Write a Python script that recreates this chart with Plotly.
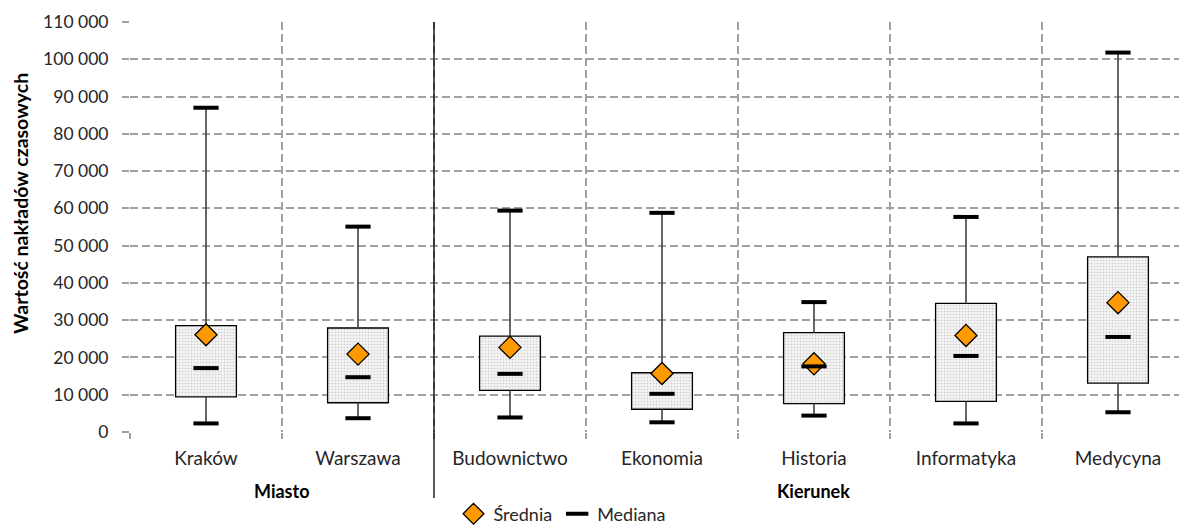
import plotly.graph_objects as go

categories = ["Kraków", "Warszawa", "Budownictwo", "Ekonomia", "Historia", "Informatyka", "Medycyna"]
mins = [2300, 3700, 3900, 2600, 4400, 2300, 5300]
q1 = [9450, 7850, 11150, 6100, 7600, 8200, 13100]
medians = [17150, 14700, 15600, 10250, 17600, 20400, 25500]
means = [26100, 20900, 22700, 15700, 18300, 25900, 34700]
q3 = [28550, 27900, 25700, 15900, 26650, 34500, 47000]
maxs = [87000, 55100, 59400, 58800, 34850, 57700, 101800]
group_labels = ["Miasto", "Kierunek"]
y_title = "Wartość nakładów czasowych"
y_ticks = list(range(0, 110001, 10000))

FONT = "Lato"
OFF = 8  # page body margin
W, H = 1187 - OFF, 527 - OFF
ML, MT, MB = 130 - OFF, 22 - OFF, 95
XR = [-0.5, 6.454]

def fx(v):
    return (v - XR[0]) / (XR[1] - XR[0])

def fy(px):
    ph = H - MT - MB
    return (H - MB - (px - OFF)) / ph

def fxp(px):
    return (px - OFF - ML) / (W - ML)

fig = go.Figure()

# boxes
fig.add_trace(go.Bar(
    x=categories, y=[b - a for a, b in zip(q1, q3)], base=q1, width=0.4,
    marker=dict(color="#f3f3f3",
                pattern=dict(shape=".", fgcolor="#b0b0b0", bgcolor="#f7f7f7", size=3, solidity=0.35),
                line=dict(color="#000000", width=1.3)),
    showlegend=False, hoverinfo="skip"))

# whiskers
wx, wy = [], []
for c, lo, a, b, hi in zip(categories, mins, q1, q3, maxs):
    wx += [c, c, None, c, c, None]
    wy += [hi, b, None, a, lo, None]
fig.add_trace(go.Scatter(x=wx, y=wy, mode="lines", line=dict(color="#404040", width=1.6),
                         showlegend=False, hoverinfo="skip", connectgaps=False))

# caps
fig.add_trace(go.Scatter(x=categories + categories, y=mins + maxs, mode="markers",
                         marker=dict(symbol="line-ew", size=18, line=dict(color="#000000", width=4)),
                         showlegend=False, hoverinfo="skip"))

# means
fig.add_trace(go.Scatter(x=categories, y=means, mode="markers", name="Średnia",
                         marker=dict(symbol="diamond", size=17, color="#FF9900",
                                     line=dict(color="#000000", width=1.3))))
# medians
fig.add_trace(go.Scatter(x=categories, y=medians, mode="markers", name="Mediana",
                         marker=dict(symbol="line-ew", size=18, line=dict(color="#000000", width=4))))

grid = dict(gridcolor="#a0a0a0", gridwidth=1.5, griddash="8px,4px")

fig.update_xaxes(type="category", range=XR, tickson="boundaries", showgrid=True, **grid,
                 ticks="outside", ticklen=6, tickcolor="#a0a0a0", tickwidth=1.5,
                 showline=False, zeroline=False, automargin=False, ticklabelstandoff=13,
                 tickfont=dict(family=FONT, size=19, color="#262626"))
fig.update_yaxes(range=[0, 110000], tickvals=y_ticks, tickformat=",d", showgrid=True, **grid,
                 ticks="outside", ticklen=7, tickcolor="#a0a0a0", tickwidth=1.5,
                 showline=False, zeroline=False, automargin=False, ticklabelstandoff=10,
                 tickfont=dict(family=FONT, size=17.5, color="#262626"))

# separator line between groups
fig.add_shape(type="line", xref="paper", yref="paper", x0=fx(1.5), x1=fx(1.5),
              y0=fy(498), y1=1, line=dict(color="#000000", width=1.3))

anns = [
    dict(text="<b>%s</b>" % group_labels[0], x=fx(0.5), y=fy(491)),
    dict(text="<b>%s</b>" % group_labels[1], x=fx(4), y=fy(491)),
]
for a in anns:
    fig.add_annotation(xref="paper", yref="paper", showarrow=False, xanchor="center", yanchor="middle",
                       font=dict(family=FONT, size=18, color="#000000"), **a)
fig.add_annotation(text="<b>%s</b>" % y_title, xref="paper", yref="paper",
                   x=fxp(21), y=fy(204), textangle=-90, showarrow=False,
                   xanchor="center", yanchor="middle",
                   font=dict(family=FONT, size=19.5, color="#000000"))

fig.update_layout(
    width=W, height=H, margin=dict(l=ML, r=0, t=MT, b=MB, autoexpand=False),
    paper_bgcolor="white", plot_bgcolor="white", separators=", ",
    barmode="overlay",
    legend=dict(orientation="h", x=fxp(562), y=fy(514), xanchor="center", yanchor="middle",
                font=dict(family=FONT, size=18, color="#262626"), itemwidth=30,
                tracegroupgap=0, bgcolor="rgba(0,0,0,0)"),
    font=dict(family=FONT),
)

fig.write_html("out.html")
